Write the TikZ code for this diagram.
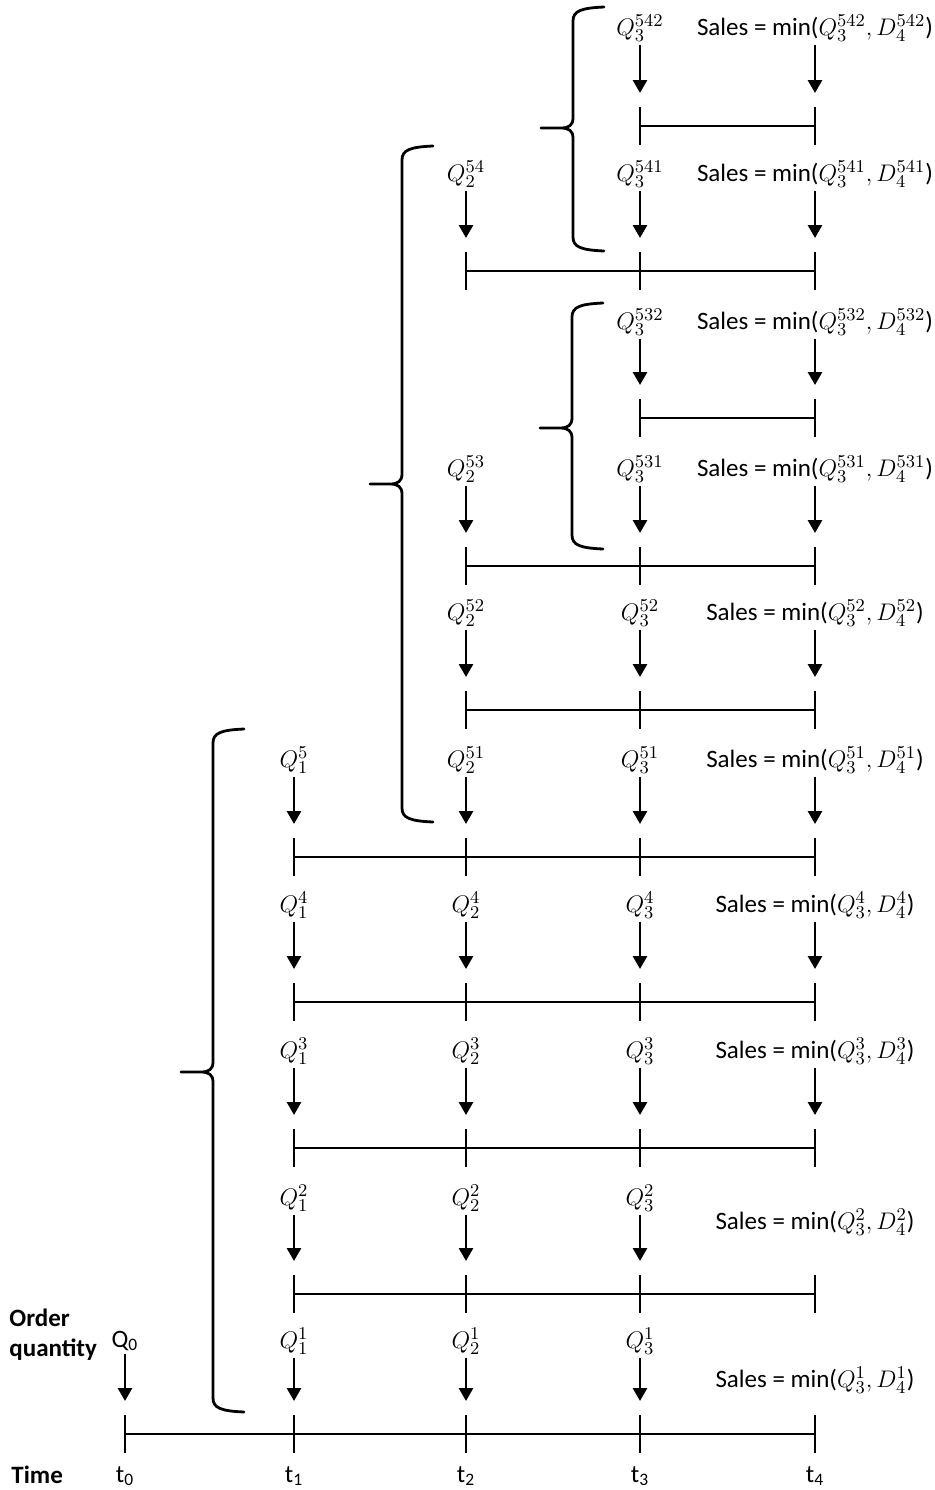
\documentclass[tikz,border=0pt]{standalone}
\usepackage{fontspec}
\setmainfont{Carlito}
\usetikzlibrary{arrows.meta}

% curly bracket drawn as in the original: x of the spine, top y, tip y, bottom y
\newcommand{\wbrace}[4]{%
  \draw[bracestroke] ({#1+31},#2) .. controls ({#1+8},{#2+1}) and (#1,{#2+4}) .. (#1,{#2+14})
    -- (#1,{#3-10}) .. controls (#1,{#3-3}) and ({#1-4},#3) .. ({#1-12},#3) -- ({#1-32},#3)
    ({#1-12},#3) .. controls ({#1-4},#3) and (#1,{#3+3}) .. (#1,{#3+10})
    -- (#1,{#4-14}) .. controls (#1,{#4-4}) and ({#1+8},{#4-1}) .. ({#1+31},#4);}

\begin{document}
\begin{tikzpicture}[x=0.5pt,y=-0.5pt,>={Triangle[length=6.5pt,width=7pt]},line join=round,
  lbl/.style={inner sep=1.5pt,font=\fontsize{12.5}{15}\selectfont},
  qarrow/.style={->,line width=1.4pt,shorten >=16.5pt},
  tline/.style={line width=1.4pt},
  tick/.style={line width=1.4pt},
  bracestroke/.style={line width=1.4pt,line cap=round}]
\useasboundingbox (0,0) rectangle (934,1490);
% timelines, one per scenario
\coordinate (a0) at (125,1434);
\coordinate (a1) at (294,1434);
\coordinate (a2) at (466,1434);
\coordinate (a3) at (640,1434);
\coordinate (a4) at (815,1434);
\coordinate (b1) at (294,1294);
\coordinate (b2) at (466,1294);
\coordinate (b3) at (640,1294);
\coordinate (b4) at (815,1294);
\coordinate (c1) at (294,1148);
\coordinate (c2) at (466,1148);
\coordinate (c3) at (640,1148);
\coordinate (c4) at (815,1148);
\coordinate (d1) at (294,1002);
\coordinate (d2) at (466,1002);
\coordinate (d3) at (640,1002);
\coordinate (d4) at (815,1002);
\coordinate (e1) at (294,857);
\coordinate (e2) at (466,857);
\coordinate (e3) at (640,857);
\coordinate (e4) at (815,857);
\coordinate (f2) at (466,710);
\coordinate (f3) at (640,710);
\coordinate (f4) at (815,710);
\coordinate (g2) at (466,566);
\coordinate (g3) at (640,566);
\coordinate (g4) at (815,566);
\coordinate (h3) at (640,418);
\coordinate (h4) at (815,418);
\coordinate (i2) at (466,271);
\coordinate (i3) at (640,271);
\coordinate (i4) at (815,271);
\coordinate (j3) at (640,126);
\coordinate (j4) at (815,126);
\draw[tline] (a0) -- (a4);
\draw[tline] (b1) -- (b4);
\draw[tline] (c1) -- (c4);
\draw[tline] (d1) -- (d4);
\draw[tline] (e1) -- (e4);
\draw[tline] (f2) -- (f4);
\draw[tline] (g2) -- (g4);
\draw[tline] (h3) -- (h4);
\draw[tline] (i2) -- (i4);
\draw[tline] (j3) -- (j4);
\foreach \p in {a0,a1,a2,a3,a4,b1,b2,b3,b4,c1,c2,c3,c4,d1,d2,d3,d4,e1,e2,e3,e4,
                f2,f3,f4,g2,g3,g4,h3,h4,i2,i3,i4,j3,j4}
  \draw[tick] ([yshift=9.5pt]\p) -- ([yshift=-9.5pt]\p);
% axis captions
\node[lbl,anchor=west,align=left,font=\fontsize{12.5}{15}\selectfont\bfseries] (oq) at (6,1335) {Order\\quantity};
\node[lbl,anchor=west,font=\fontsize{12.5}{15}\selectfont\bfseries] (tm) at (8,1475) {Time};
\node[lbl] (t0) at (125,1476) {t\textsubscript{0}};
\node[lbl] (t1) at (294,1476) {t\textsubscript{1}};
\node[lbl] (t2) at (466,1476) {t\textsubscript{2}};
\node[lbl] (t3) at (640,1476) {t\textsubscript{3}};
\node[lbl] (t4) at (815,1476) {t\textsubscript{4}};
% scenario 1
\node[lbl] (qa0) at (125,1341) {Q\textsubscript{0}};
\node[lbl] (qa1) at (294,1341) {$Q_1^1$};
\node[lbl] (qa2) at (466,1341) {$Q_2^1$};
\node[lbl] (qa3) at (640,1341) {$Q_3^1$};
\node[lbl] (sa) at (815,1380) {Sales = min($Q_3^1, D_4^1$)};
\draw[qarrow] (qa0) -- (a0);
\draw[qarrow] (qa1) -- (a1);
\draw[qarrow] (qa2) -- (a2);
\draw[qarrow] (qa3) -- (a3);
% scenario 2
\node[lbl] (qb1) at (294,1198) {$Q_1^2$};
\node[lbl] (qb2) at (466,1198) {$Q_2^2$};
\node[lbl] (qb3) at (640,1198) {$Q_3^2$};
\node[lbl] (sb) at (815,1222) {Sales = min($Q_3^2, D_4^2$)};
\draw[qarrow] (qb1) -- (b1);
\draw[qarrow] (qb2) -- (b2);
\draw[qarrow] (qb3) -- (b3);
% scenario 3
\node[lbl] (qc1) at (294,1051) {$Q_1^3$};
\node[lbl] (qc2) at (466,1051) {$Q_2^3$};
\node[lbl] (qc3) at (640,1051) {$Q_3^3$};
\node[lbl] (sc) at (815,1051) {Sales = min($Q_3^3, D_4^3$)};
\draw[qarrow] (qc1) -- (c1);
\draw[qarrow] (qc2) -- (c2);
\draw[qarrow] (qc3) -- (c3);
\draw[qarrow] (sc) -- (c4);
% scenario 4
\node[lbl] (qd1) at (294,905) {$Q_1^4$};
\node[lbl] (qd2) at (466,905) {$Q_2^4$};
\node[lbl] (qd3) at (640,905) {$Q_3^4$};
\node[lbl] (sd) at (815,905) {Sales = min($Q_3^4, D_4^4$)};
\draw[qarrow] (qd1) -- (d1);
\draw[qarrow] (qd2) -- (d2);
\draw[qarrow] (qd3) -- (d3);
\draw[qarrow] (sd) -- (d4);
% scenario 5 and its branches
\node[lbl] (qe1) at (294,760) {$Q_1^5$};
\node[lbl] (qe2) at (466,760) {$Q_2^{51}$};
\node[lbl] (qe3) at (640,760) {$Q_3^{51}$};
\node[lbl] (se) at (815,760) {Sales = min($Q_3^{51}, D_4^{51}$)};
\draw[qarrow] (qe1) -- (e1);
\draw[qarrow] (qe2) -- (e2);
\draw[qarrow] (qe3) -- (e3);
\draw[qarrow] (se) -- (e4);
\node[lbl] (qf2) at (466,613) {$Q_2^{52}$};
\node[lbl] (qf3) at (640,613) {$Q_3^{52}$};
\node[lbl] (sf) at (815,613) {Sales = min($Q_3^{52}, D_4^{52}$)};
\draw[qarrow] (qf2) -- (f2);
\draw[qarrow] (qf3) -- (f3);
\draw[qarrow] (sf) -- (f4);
\node[lbl] (qg2) at (466,469) {$Q_2^{53}$};
\node[lbl] (qg3) at (640,469) {$Q_3^{531}$};
\node[lbl] (sg) at (815,469) {Sales = min($Q_3^{531}, D_4^{531}$)};
\draw[qarrow] (qg2) -- (g2);
\draw[qarrow] (qg3) -- (g3);
\draw[qarrow] (sg) -- (g4);
\node[lbl] (qh3) at (640,322) {$Q_3^{532}$};
\node[lbl] (sh) at (815,322) {Sales = min($Q_3^{532}, D_4^{532}$)};
\draw[qarrow] (qh3) -- (h3);
\draw[qarrow] (sh) -- (h4);
\node[lbl] (qi2) at (466,174) {$Q_2^{54}$};
\node[lbl] (qi3) at (640,174) {$Q_3^{541}$};
\node[lbl] (si) at (815,174) {Sales = min($Q_3^{541}, D_4^{541}$)};
\draw[qarrow] (qi2) -- (i2);
\draw[qarrow] (qi3) -- (i3);
\draw[qarrow] (si) -- (i4);
\node[lbl] (qj3) at (640,28) {$Q_3^{542}$};
\node[lbl] (sj) at (815,28) {Sales = min($Q_3^{542}, D_4^{542}$)};
\draw[qarrow] (qj3) -- (j3);
\draw[qarrow] (sj) -- (j4);
% brackets grouping the branches
\wbrace{213}{729}{1072}{1412}
\wbrace{402}{146}{484}{822}
\wbrace{572}{303}{428}{549}
\wbrace{573}{7}{128}{251}
\end{tikzpicture}
\end{document}
